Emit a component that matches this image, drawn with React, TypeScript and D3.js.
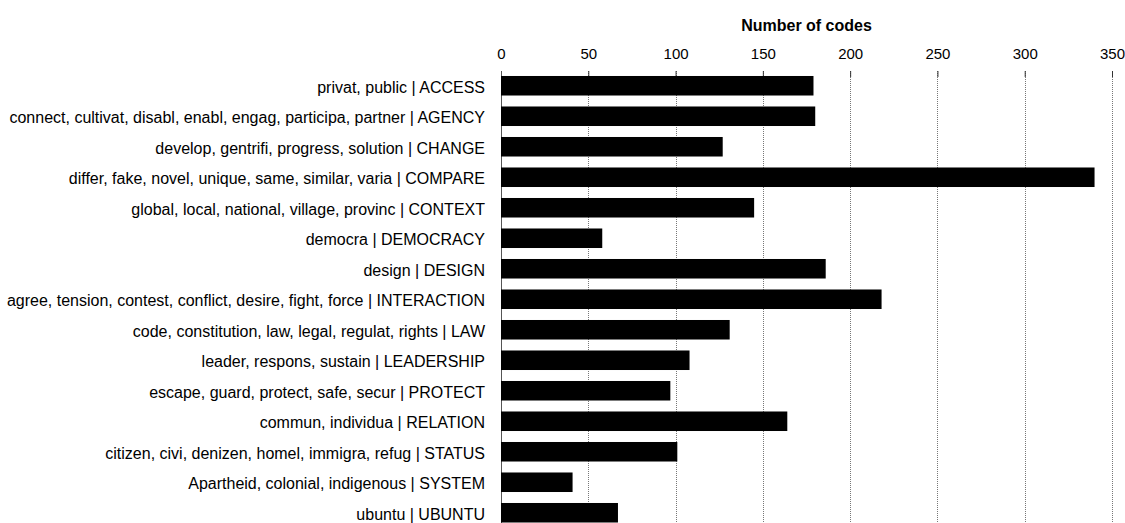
import React, { useEffect, useRef } from 'react';
import * as d3 from 'd3';

const categories = [
  'privat, public | ACCESS',
  'connect, cultivat, disabl, enabl, engag, participa, partner | AGENCY',
  'develop, gentrifi, progress, solution | CHANGE',
  'differ, fake, novel, unique, same, similar, varia | COMPARE',
  'global, local, national, village, provinc | CONTEXT',
  'democra | DEMOCRACY',
  'design | DESIGN',
  'agree, tension, contest, conflict, desire, fight, force | INTERACTION',
  'code, constitution, law, legal, regulat, rights | LAW',
  'leader, respons, sustain | LEADERSHIP',
  'escape, guard, protect, safe, secur | PROTECT',
  'commun, individua | RELATION',
  'citizen, civi, denizen, homel, immigra, refug | STATUS',
  'Apartheid, colonial, indigenous | SYSTEM',
  'ubuntu | UBUNTU',
];

const codeCounts = [179, 180, 127, 340, 145, 58, 186, 218, 131, 108, 97, 164, 101, 41, 67];

const xTicks = [0, 50, 100, 150, 200, 250, 300, 350];

const axisTitle = 'Number of codes';

const App = () => {
  const svgRef = useRef<SVGSVGElement>(null);
  const width = 1125;
  const height = 523;
  const margin = { top: 70.5, right: 13, left: 501 };
  const bandBottom = 528;

  useEffect(() => {
    const svg = d3.select(svgRef.current);
    svg.selectAll('*').remove();

    const data = categories.map((c, i) => ({ label: c, value: codeCounts[i] }));

    const x = d3.scaleLinear().domain([0, 350]).range([margin.left, width - margin.right]);
    const y = d3
      .scaleBand()
      .domain(categories)
      .range([margin.top, bandBottom])
      .paddingInner(0.36)
      .paddingOuter(0.18);

    const font = 'Liberation Sans, Arial, sans-serif';
    const gridTop = 71;

    // dotted grid lines
    svg.append('g')
      .selectAll('line')
      .data(xTicks.filter(t => t > 0))
      .join('line')
      .attr('x1', d => Math.round(x(d)) + 0.5)
      .attr('x2', d => Math.round(x(d)) + 0.5)
      .attr('y1', gridTop)
      .attr('y2', height)
      .attr('stroke', '#777')
      .attr('stroke-width', 1)
      .attr('stroke-dasharray', '1,1');

    // top axis
    const axis = svg.append('g')
      .attr('transform', `translate(0,${gridTop})`)
      .call(d3.axisTop(x).tickValues(xTicks).tickSize(-6).tickSizeOuter(0).tickPadding(12));
    axis.select('.domain').remove();
    axis.selectAll('.tick line').attr('stroke', '#333');
    axis.selectAll('.tick text')
      .attr('font-family', font)
      .attr('font-size', 15)
      .attr('fill', '#000');

    // left axis line at zero
    svg.append('line')
      .attr('x1', Math.round(x(0)) + 0.5)
      .attr('x2', Math.round(x(0)) + 0.5)
      .attr('y1', gridTop)
      .attr('y2', height)
      .attr('stroke', '#555')
      .attr('stroke-width', 1);

    // bars
    svg.append('g')
      .selectAll('rect')
      .data(data)
      .join('rect')
      .attr('x', x(0))
      .attr('y', d => y(d.label)!)
      .attr('width', d => x(d.value) - x(0))
      .attr('height', y.bandwidth())
      .attr('fill', '#000');

    // category labels
    svg.append('g')
      .selectAll('text')
      .data(data)
      .join('text')
      .attr('x', x(0) - 16)
      .attr('y', d => y(d.label)! + y.bandwidth() / 2)
      .attr('dy', '0.45em')
      .attr('text-anchor', 'end')
      .attr('font-family', font)
      .attr('font-size', 16)
      .attr('fill', '#000')
      .text(d => d.label);

    // axis title
    svg.append('text')
      .attr('x', (x(0) + x(350)) / 2)
      .attr('y', 31)
      .attr('text-anchor', 'middle')
      .attr('font-family', font)
      .attr('font-size', 16)
      .attr('font-weight', 'bold')
      .attr('fill', '#000')
      .text(axisTitle);
  }, []);

  return (
    <svg
      ref={svgRef}
      width={width}
      height={height}
      style={{ position: 'absolute', left: 0, top: 0, background: '#fff' }}
    />
  );
};

export default App;
